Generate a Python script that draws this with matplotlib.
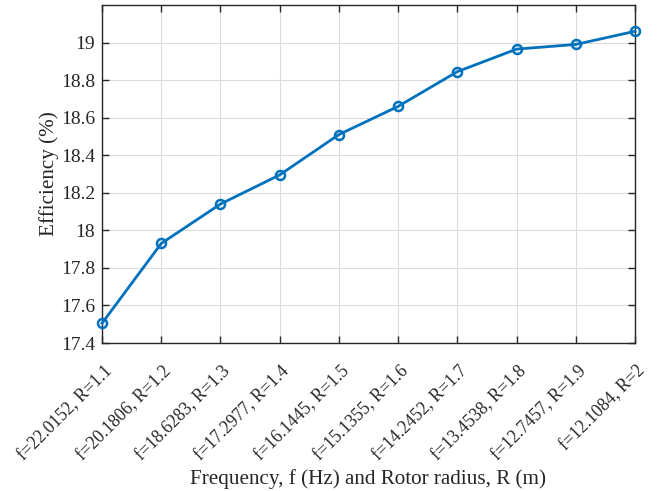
import matplotlib
matplotlib.use("Agg")
import matplotlib.pyplot as plt
from matplotlib.transforms import ScaledTranslation, blended_transform_factory

freqs = ["22.0152", "20.1806", "18.6283", "17.2977", "16.1445",
         "15.1355", "14.2452", "13.4538", "12.7457", "12.1084"]
radii = ["1.1", "1.2", "1.3", "1.4", "1.5", "1.6", "1.7", "1.8", "1.9", "2"]
efficiency = [17.505, 17.93, 18.14, 18.295, 18.51, 18.66, 18.845, 18.965, 18.99, 19.06]
yticks = [17.4, 17.6, 17.8, 18, 18.2, 18.4, 18.6, 18.8, 19]

plt.rcParams['font.family'] = ['Liberation Serif', 'DejaVu Serif']

fig = plt.figure(figsize=(6.66, 4.91), dpi=100)
ax = fig.add_axes([102/666, 1-343/491, (635-102)/666, (343-5)/491])

x = list(range(1, len(efficiency)+1))
ax.plot(x, efficiency, '-o', color='#0072BD', lw=2, markersize=6.5,
        markerfacecolor='none', markeredgewidth=1.8, clip_on=False, zorder=3)

labels = [f"f={f}, R={r}" for f, r in zip(freqs, radii)]
ax.set_xlim(1, 10)
ax.set_xticks(x)
ax.set_xticklabels([])
trans = blended_transform_factory(ax.transData, ax.transAxes) + \
    ScaledTranslation(0.075, -0.255, fig.dpi_scale_trans)
for xi, lab in zip(x, labels):
    ax.text(xi, 0, lab, transform=trans, rotation=45, ha='right', va='center',
            rotation_mode='anchor', fontsize=12.7, color='#262626', clip_on=False)

ax.set_ylim(17.4, 19.2)
ax.set_yticks(yticks)
ax.set_yticklabels([f"{v:g}" for v in yticks], fontsize=14)

ax.grid(True, color='#dcdcdc', lw=0.8)
ax.set_axisbelow(True)
ax.tick_params(direction='in', top=True, right=True, length=5, width=1, colors='#262626')
ax.tick_params(axis='y', pad=5)
for s in ax.spines.values():
    s.set_color('#262626')
    s.set_linewidth(1)

ax.set_xlabel("Frequency, f (Hz) and Rotor radius, R (m)", fontsize=15.2, color='#262626')
ax.xaxis.set_label_coords(0.5, -0.373)
ax.set_ylabel("Efficiency (%)", fontsize=15.2, color='#262626', labelpad=1)

fig.savefig("out.png", dpi=100)
